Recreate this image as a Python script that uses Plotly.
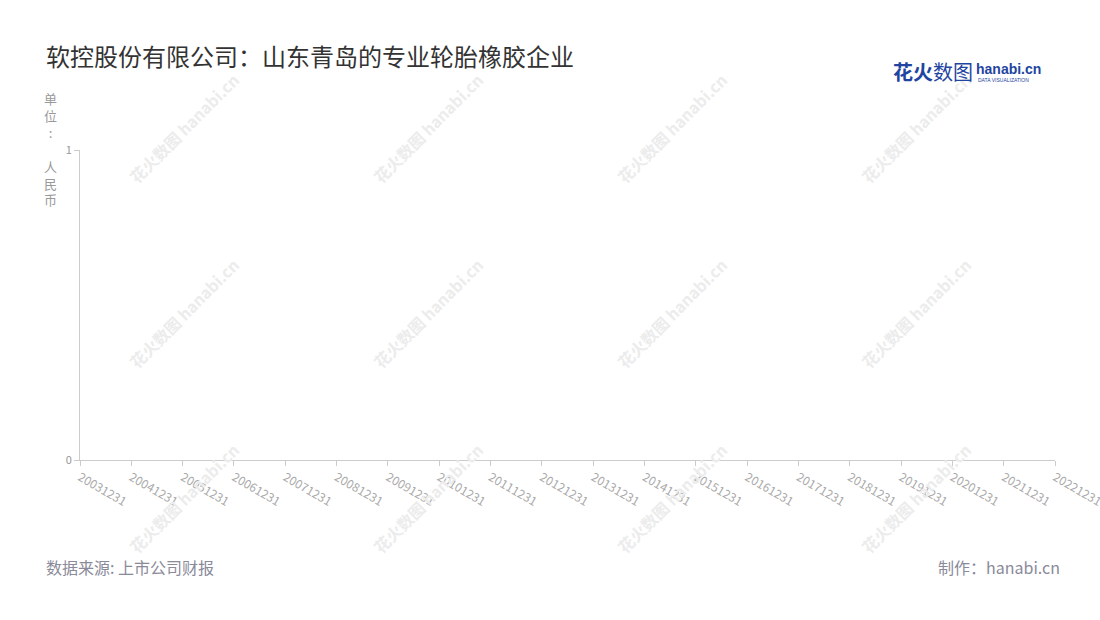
import plotly.graph_objects as go

# 数据（原图为空图，只有日期类别）
dates = [
    "20031231", "20041231", "20051231", "20061231", "20071231",
    "20081231", "20091231", "20101231", "20111231", "20121231",
    "20131231", "20141231", "20151231", "20161231", "20171231",
    "20181231", "20191231", "20201231", "20211231", "20221231",
]
values = [None] * len(dates)
y_ticks = [0, 1]

title_text = "软控股份有限公司：山东青岛的专业轮胎橡胶企业"
unit_text = "单<br>位<br>:<br><br>人<br>民<br>币"
source_text = "数据来源: 上市公司财报"
credit_text = "制作：hanabi.cn"

FONT = "Noto Sans CJK SC, Noto Sans, sans-serif"

fig = go.Figure()
fig.add_trace(go.Scatter(x=dates, y=values, mode="lines", line=dict(color="#5470c6")))

fig.update_layout(
    width=1100,
    height=620,
    margin=dict(l=80, r=45, t=150, b=160),
    paper_bgcolor="white",
    plot_bgcolor="white",
    showlegend=False,
    font=dict(family=FONT, color="#999"),
    xaxis=dict(
        type="category",
        categoryorder="array",
        categoryarray=dates,
        range=[0, len(dates) - 1],
        automargin=False,
        showline=True,
        linecolor="#ccc",
        linewidth=1,
        showgrid=False,
        zeroline=False,
        ticks="outside",
        ticklen=5,
        tickcolor="#ccc",
        tickangle=30,
        tickfont=dict(size=12, color="#aaa"),
        fixedrange=True,
    ),
    yaxis=dict(
        range=[0, 1],
        tickvals=y_ticks,
        automargin=False,
        showline=True,
        linecolor="#ccc",
        linewidth=1,
        showgrid=True,
        gridcolor="#e0e0e0",
        griddash="dash",
        zeroline=False,
        ticks="outside",
        ticklen=5,
        tickcolor="#ccc",
        tickfont=dict(size=11, color="#999"),
        fixedrange=True,
    ),
)

# 水印
for cx in [184, 428, 672, 916]:
    for cy in [128, 313, 498]:
        fig.add_annotation(
            xref="paper", yref="paper",
            x=(cx - 80) / 975, y=(460 - cy) / 310,
            xanchor="center", yanchor="middle",
            text="<b>花火数图 hanabi.cn</b>",
            textangle=-45,
            showarrow=False,
            font=dict(size=16, color="#ececec", family=FONT),
        )

annotations = [
    dict(x=44, y=55, text=title_text, size=24, color="#333", anchor="left"),
    dict(x=44, y=567, text=source_text, size=16, color="#8a8a99", anchor="left"),
    dict(x=1062, y=567, text=credit_text, size=16, color="#8a8a99", anchor="right"),
]
for a in annotations:
    fig.add_annotation(
        xref="paper", yref="paper",
        x=(a["x"] - 80) / 975, y=(460 - a["y"]) / 310,
        xanchor=a["anchor"], yanchor="middle",
        text=a["text"], showarrow=False,
        font=dict(size=a["size"], color=a["color"], family=FONT),
    )

# 单位（竖排）
fig.add_annotation(
    xref="paper", yref="paper",
    x=(50 - 80) / 975, y=(460 - 87) / 310,
    xanchor="center", yanchor="top",
    text=unit_text, showarrow=False,
    font=dict(size=13, color="#999", family=FONT),
)

# 右上角标识
fig.add_annotation(
    xref="paper", yref="paper",
    x=(891 - 80) / 975, y=(460 - 72) / 310,
    xanchor="left", yanchor="middle",
    text="<b>花火</b>数图", showarrow=False,
    font=dict(size=20, color="#1f45a0", family=FONT),
)
fig.add_annotation(
    xref="paper", yref="paper",
    x=(974 - 80) / 975, y=(460 - 69) / 310,
    xanchor="left", yanchor="middle",
    text="<b>hanabi.cn</b>", showarrow=False,
    font=dict(size=14, color="#1f45a0", family="Arial, Liberation Sans, sans-serif"),
)
fig.add_annotation(
    xref="paper", yref="paper",
    x=(976 - 80) / 975, y=(460 - 80) / 310,
    xanchor="left", yanchor="middle",
    text="DATA VISUALIZATION", showarrow=False,
    font=dict(size=5, color="#1f45a0", family="Arial, Liberation Sans, sans-serif"),
)

fig.write_html(
    "out.html",
    config={"displayModeBar": False},
    post_script="document.body.style.margin='0';document.body.style.overflow='hidden';",
)
